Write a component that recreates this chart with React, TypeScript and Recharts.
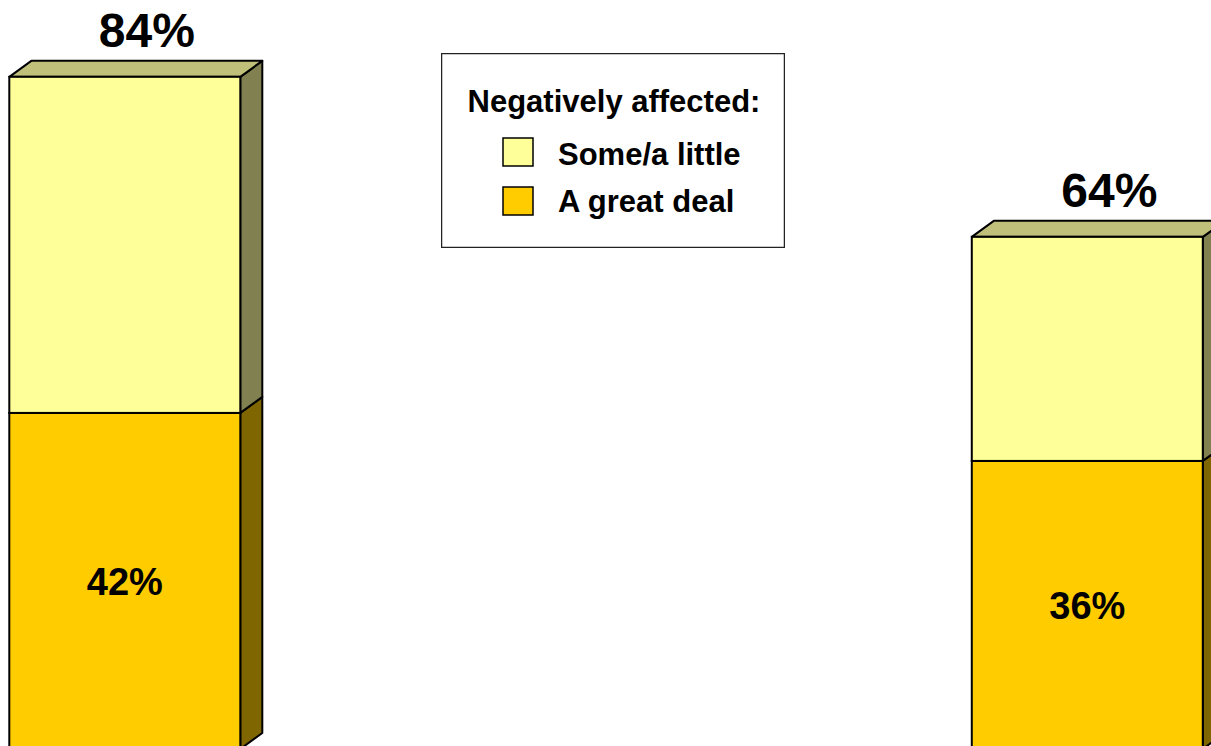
import { BarChart, Bar, XAxis, YAxis, Legend, LabelList } from "recharts";

const categories = ["Group A", "Group B"];
const greatDeal = [42, 36];
const someLittle = [42, 28];

const seriesNames = { greatDeal: "A great deal", someLittle: "Some/a little" };

const FONT = '"Liberation Sans", Arial, Helvetica, sans-serif';
const DX = 22;
const DY = 16;

const colors = {
  light: "#FFFF99",
  lightTop: "#C0C07A",
  lightSide: "#808050",
  gold: "#FFCC00",
  goldSide: "#806600",
};

const data = categories.map((name, i) => ({
  idx: i,
  name,
  greatDeal: greatDeal[i],
  someLittle: someLittle[i],
  total: greatDeal[i] + someLittle[i],
}));

// 3D-ish bar segment: front face, right side, optional top face
function make3D(front: string, side: string, top?: string) {
  return (props: any) => {
    const { x, y, width: w, height: h } = props;
    if (w == null || h == null) return <g />;
    return (
      <g>
        <polygon
          points={`${x + w},${y} ${x + w + DX},${y - DY} ${x + w + DX},${y + h - DY} ${x + w},${y + h}`}
          fill={side}
          stroke="#000"
          strokeWidth={2}
          strokeLinejoin="round"
        />
        {top && (
          <polygon
            points={`${x},${y} ${x + DX},${y - DY} ${x + w + DX},${y - DY} ${x + w},${y}`}
            fill={top}
            stroke="#000"
            strokeWidth={2}
            strokeLinejoin="round"
          />
        )}
        <rect x={x} y={y} width={w} height={h} fill={front} stroke="#000" strokeWidth={2} />
      </g>
    );
  };
}

function LegendBox() {
  const items = [
    { label: seriesNames.someLittle, color: colors.light, y: 85, ty: 112 },
    { label: seriesNames.greatDeal, color: colors.gold, y: 134, ty: 159 },
  ];
  return (
    <svg width={344} height={195} style={{ display: "block" }}>
      <rect x={0.5} y={0.5} width={343} height={194} fill="#fff" stroke="#222" strokeWidth={1.5} />
      <text x={173} y={59} textAnchor="middle" fontFamily={FONT} fontWeight="bold" fontSize={31} fill="#000">
        Negatively affected:
      </text>
      {items.map((it) => (
        <g key={it.label}>
          <rect x={62} y={it.y} width={30} height={28} fill={it.color} stroke="#000" strokeWidth={1.5} />
          <text x={117} y={it.ty} fontFamily={FONT} fontWeight="bold" fontSize={31} fill="#000">
            {it.label}
          </text>
        </g>
      ))}
    </svg>
  );
}

export default function App() {
  return (
    <div
      style={{
        position: "fixed",
        left: 0,
        top: 0,
        width: 1211,
        height: 746,
        overflow: "hidden",
        background: "#fff",
      }}
    >
      <BarChart width={1211} height={749} data={data} margin={{ top: 0, right: 0, bottom: 0, left: 0 }}>
        <XAxis
          dataKey="idx"
          type="number"
          domain={[-0.1294, 1.1288]}
          ticks={[0, 1]}
          allowDataOverflow
          hide
        />
        <YAxis type="number" domain={[0, 93.6]} allowDataOverflow hide />
        <Legend
          layout="horizontal"
          align="center"
          verticalAlign="middle"
          wrapperStyle={{ left: 441, top: 53, width: 344, height: 195 }}
          content={() => <LegendBox />}
        />
        <Bar
          dataKey="greatDeal"
          name={seriesNames.greatDeal}
          stackId="a"
          barSize={231}
          fill={colors.gold}
          isAnimationActive={false}
          shape={make3D(colors.gold, colors.goldSide)}
        >
          <LabelList
            dataKey="greatDeal"
            content={(p: any) => (
              <text
                x={p.x + p.width / 2}
                y={p.y + p.height / 2 + 14}
                textAnchor="middle"
                fontFamily={FONT}
                fontWeight="bold"
                fontSize={38}
                fill="#000"
              >
                {`${p.value}%`}
              </text>
            )}
          />
        </Bar>
        <Bar
          dataKey="someLittle"
          name={seriesNames.someLittle}
          stackId="a"
          barSize={231}
          fill={colors.light}
          isAnimationActive={false}
          shape={make3D(colors.light, colors.lightSide, colors.lightTop)}
        >
          <LabelList
            dataKey="total"
            content={(p: any) => (
              <text
                x={p.x + p.width / 2 + DX}
                y={p.y - DY - 14}
                textAnchor="middle"
                fontFamily={FONT}
                fontWeight="bold"
                fontSize={48}
                fill="#000"
              >
                {`${p.value}%`}
              </text>
            )}
          />
        </Bar>
      </BarChart>
    </div>
  );
}
